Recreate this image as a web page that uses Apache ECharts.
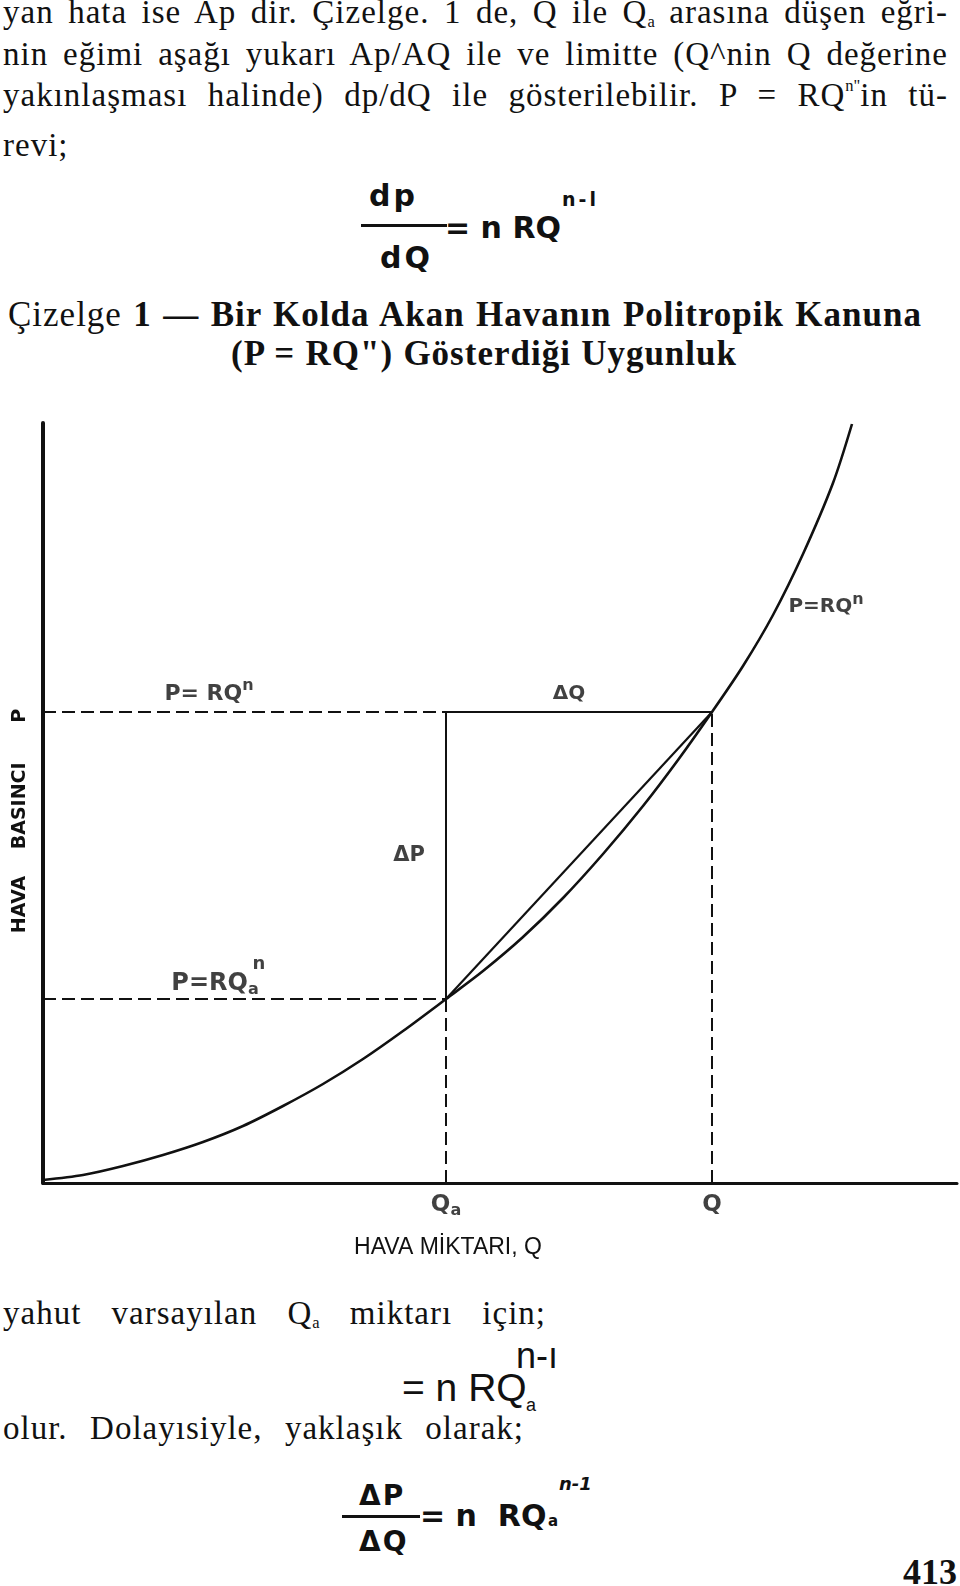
<!DOCTYPE html>
<html><head><meta charset="utf-8">
<script src="https://cdn.jsdelivr.net/npm/echarts@6/dist/echarts.min.js"></script>
<style>
html,body{margin:0;padding:0;background:#fff;}
body{width:960px;height:1586px;position:relative;overflow:hidden;color:#111;}
.t{position:absolute;font-family:"Liberation Serif","Times New Roman",serif;font-size:33px;line-height:33px;letter-spacing:1px;white-space:nowrap;}
.t sub,.t sup{font-size:0.5em;line-height:0;letter-spacing:0;}
.t sub{vertical-align:-0.25em;}
.t sup{vertical-align:0.9em;}
.b{font-weight:bold;}
.ti{font-size:35px;line-height:35px;letter-spacing:1px;}
.f{position:absolute;font-family:"DejaVu Sans",sans-serif;font-weight:bold;line-height:1;white-space:nowrap;}
.n{position:absolute;font-family:"Liberation Sans",Arial,sans-serif;line-height:1;white-space:nowrap;}
.bar{position:absolute;background:#111;}
#chart{position:absolute;left:0;top:400px;width:960px;height:880px;}
</style></head>
<body>
<div class="t j" data-w="945" style="left:3px;top:-4px;">yan hata ise Ap dir. Çizelge. 1 de, Q ile Q<sub>a</sub> arasına düşen eğri-</div>
<div class="t j" data-w="945" style="left:3px;top:38px;">nin eğimi aşağı yukarı Ap/AQ ile ve limitte (Q^nin Q değerine</div>
<div class="t j" data-w="945" style="left:3px;top:79px;">yakınlaşması halinde) dp/dQ ile gösterilebilir. P = RQ<sup>n"</sup>in tü-</div>
<div class="t" style="left:3px;top:129px;">revi;</div>

<div class="f" style="left:369px;top:181px;font-size:30px;letter-spacing:3px;">dp</div>
<div class="bar" style="left:361px;top:224px;width:86px;height:3px;"></div>
<div class="f" style="left:380px;top:243px;font-size:30px;letter-spacing:3px;">dQ</div>
<div class="f" style="left:445px;top:213px;font-size:30px;">= n RQ</div>
<div class="f" style="left:562px;top:190px;font-size:19px;letter-spacing:3px;">n-l</div>

<div class="t j ti" data-w="914" style="left:8px;top:297px;">Çizelge <span class="b">1 — Bir Kolda Akan Havanın Politropik Kanuna</span></div>
<div class="t j ti b" data-w="506" style="left:231px;top:336px;">(P = RQ") Gösterdiği Uygunluk</div>

<div id="chart"></div>

<div class="t j" data-w="543" style="left:3px;top:1297px;">yahut varsayılan Q<sub>a</sub> miktarı için;</div>
<div class="n" style="left:402px;top:1368px;font-size:39px;">= n RQ</div>
<div class="n" style="left:526px;top:1396px;font-size:18px;">a</div>
<div class="n" style="left:516px;top:1338px;font-size:36px;">n-ı</div>
<div class="t j" data-w="521" style="left:3px;top:1412px;">olur. Dolayısiyle, yaklaşık olarak;</div>

<div class="f" style="left:359px;top:1482px;font-size:28px;letter-spacing:2px;">ΔP</div>
<div class="bar" style="left:342px;top:1515px;width:78px;height:3px;"></div>
<div class="f" style="left:359px;top:1528px;font-size:28px;letter-spacing:2px;">ΔQ</div>
<div class="f" style="left:420px;top:1501px;font-size:30px;">= n &nbsp;RQ</div>
<div class="f" style="left:548px;top:1514px;font-size:15px;">a</div>
<div class="f" style="left:559px;top:1475px;font-size:18px;font-style:italic;">n-1</div>

<div class="t b" style="left:903px;top:1554px;font-size:36px;line-height:36px;letter-spacing:0;">413</div>

<script>
// Curve P = RQ^n (arbitrary units: Q horizontal, P vertical)
const curveQ = [0, 4, 8, 12, 16, 20, 24, 28, 32, 36, 40.3, 44, 48, 52, 56, 60, 63.5, 66.9, 70, 73, 76, 79, 80.9];
const curveP = [0.3, 0.8, 1.7, 2.8, 4.1, 5.7, 7.7, 9.9, 12.4, 15.2, 18.4, 21.2, 24.6, 28.5, 32.9, 37.7, 42.3, 47.1, 51.7, 56.8, 62.9, 70.0, 75.9];
// the two marked points: Qa and Q
const pointQ = [40.3, 66.9];
const pointP = [18.4, 47.1];
const axisQMax = 91.4;
const axisPMax = 76;
// annotation labels (anchor values)
const annQ = [16.6, 52.6, 78.3, 36.6, 17.2, 21.6];
const annP = [49.2, 48.9, 57.9, 32.7, 19.9, 21.9];
const annText = ['{m|P= RQ}{s|n}', '{d|ΔQ}', '{r|P=RQ}{s|n}', '{e|ΔP}', '{k|P=RQ}{u|a}', '{v|n}'];
const tickText = ['{q|Q}{a|a}', '{q|Q}'];

// justify each text line to the width it has on the page
document.querySelectorAll('.j').forEach(el => {
  const target = parseFloat(el.dataset.w);
  const w = el.getBoundingClientRect().width;
  const gaps = (el.textContent.trim().match(/\s+/g) || []).length;
  if (gaps) el.style.wordSpacing = ((target - w) / gaps) + 'px';
});

const ink = '#111';
const dash = [13, 6];
const Qa = pointQ[0], Q = pointQ[1], Pa = pointP[0], P = pointP[1];
const fam = 'DejaVu Sans';

function lineSeries(data, type, width) {
  return {type: 'line', data: data, showSymbol: false, silent: true,
    lineStyle: {color: ink, width: width, type: type}, z: 3};
}

const chart = echarts.init(document.getElementById('chart'), null, {renderer: 'canvas'});
chart.setOption({
  animation: false,
  grid: {left: 43, top: 23, width: 914, height: 760},
  xAxis: {type: 'value', min: 0, max: axisQMax,
    axisLine: {lineStyle: {color: ink, width: 3}}, axisTick: {show: false},
    axisLabel: {show: false}, splitLine: {show: false},
    name: 'HAVA MİKTARI, Q', nameLocation: 'middle', nameGap: 53,
    nameTextStyle: {fontFamily: 'Liberation Sans', fontSize: 23, color: ink, padding: [0, 104, 0, 0]}},
  yAxis: {type: 'value', min: 0, max: axisPMax,
    axisLine: {lineStyle: {color: ink, width: 4}}, axisTick: {show: false},
    axisLabel: {show: false}, splitLine: {show: false},
    name: 'HAVA    BASINCI      P', nameLocation: 'middle', nameRotate: 90, nameGap: 13,
    nameTextStyle: {fontFamily: fam, fontWeight: 'bold', fontSize: 19, color: ink, padding: [0, 36, 0, 0]}},
  series: [
    Object.assign(lineSeries(curveQ.map((q, i) => [q, curveP[i]]), 'solid', 2.6), {smooth: 0.3}),
    lineSeries([[Qa, Pa], [Q, P]], 'solid', 2.2),
    lineSeries([[Qa, Pa], [Qa, P], [Q, P]], 'solid', 2),
    lineSeries([[0, P], [Qa, P]], dash, 2),
    lineSeries([[0, Pa], [Qa, Pa]], dash, 2),
    lineSeries([[Qa, 0], [Qa, Pa]], dash, 2),
    lineSeries([[Q, 0], [Q, P]], dash, 2),
    {type: 'scatter', symbolSize: 1, itemStyle: {color: 'rgba(0,0,0,0)'}, clip: false, silent: true,
      data: annQ.map((q, i) => ({value: [q, annP[i]], t: annText[i]})),
      label: {show: true, position: 'inside', color: ink,
        formatter: p => p.data.t,
        rich: {
          m: {fontFamily: fam, fontWeight: 'bold', fontSize: 22, color: ink, lineHeight: 26, padding: [6, 0, 0, 0]},
          r: {fontFamily: fam, fontWeight: 'bold', fontSize: 20, color: ink, lineHeight: 24, padding: [6, 0, 0, 0]},
          s: {fontFamily: fam, fontWeight: 'bold', fontSize: 16, color: ink, lineHeight: 16, verticalAlign: 'top'},
          d: {fontFamily: fam, fontWeight: 'bold', fontSize: 20, color: ink},
          e: {fontFamily: fam, fontWeight: 'bold', fontSize: 21, color: ink},
          k: {fontFamily: fam, fontWeight: 'bold', fontSize: 24, color: ink, lineHeight: 28},
          u: {fontFamily: fam, fontWeight: 'bold', fontSize: 16, color: ink, lineHeight: 16, verticalAlign: 'bottom'},
          v: {fontFamily: fam, fontWeight: 'bold', fontSize: 18, color: ink}
        }}},
    {type: 'scatter', symbolSize: 1, itemStyle: {color: 'rgba(0,0,0,0)'}, clip: false, silent: true,
      data: pointQ.map((q, i) => ({value: [q, 0], t: tickText[i]})),
      label: {show: true, position: 'bottom', distance: 9, color: ink,
        formatter: p => p.data.t,
        rich: {
          q: {fontFamily: fam, fontWeight: 'bold', fontSize: 23, color: ink, lineHeight: 26},
          a: {fontFamily: fam, fontWeight: 'bold', fontSize: 16, color: ink, lineHeight: 16, verticalAlign: 'bottom'}
        }}}
  ]
});
</script>
</body></html>
